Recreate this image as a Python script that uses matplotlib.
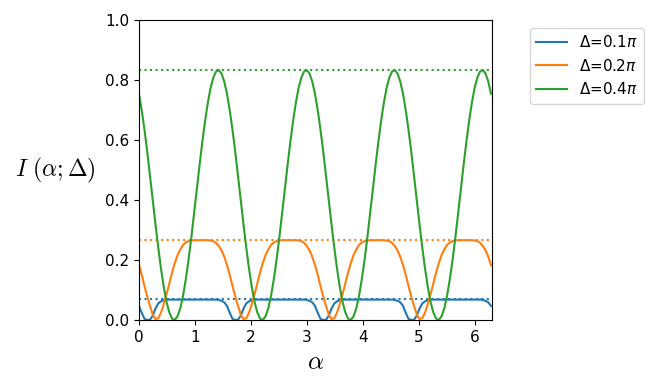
import numpy as np
import matplotlib
matplotlib.use('Agg')
import matplotlib.pyplot as plt

# muestras de alfa entre 0 y 2*pi
alpha = np.linspace(0, 2 * np.pi, 129)

# valores (periodo pi/2)
i_01 = [0.047, 0.024, 0.004, 0.000, 0.001, 0.014, 0.038, 0.055,
        0.062, 0.066, 0.068, 0.068, 0.068, 0.068, 0.068, 0.068,
        0.068, 0.068, 0.068, 0.068, 0.068, 0.068, 0.068, 0.068,
        0.068, 0.068, 0.068, 0.068, 0.068, 0.067, 0.064, 0.059,
        0.047, 0.024, 0.004, 0.000, 0.001, 0.014, 0.038, 0.055,
        0.062, 0.066, 0.068, 0.068, 0.068, 0.068, 0.068, 0.068,
        0.068, 0.068, 0.068, 0.068, 0.068, 0.068, 0.068, 0.068,
        0.068, 0.068, 0.068, 0.068, 0.068, 0.067, 0.064, 0.059,
        0.047, 0.024, 0.004, 0.000, 0.001, 0.014, 0.038, 0.055,
        0.062, 0.066, 0.068, 0.068, 0.068, 0.068, 0.068, 0.068,
        0.068, 0.068, 0.068, 0.068, 0.068, 0.068, 0.068, 0.068,
        0.068, 0.068, 0.068, 0.068, 0.068, 0.067, 0.064, 0.059,
        0.047, 0.024, 0.004, 0.000, 0.001, 0.014, 0.038, 0.055,
        0.062, 0.066, 0.068, 0.068, 0.068, 0.068, 0.068, 0.068,
        0.068, 0.068, 0.068, 0.068, 0.068, 0.068, 0.068, 0.068,
        0.068, 0.068, 0.068, 0.068, 0.068, 0.067, 0.064, 0.059,
        0.047]

i_02 = [0.183, 0.151, 0.113, 0.079, 0.047, 0.019, 0.003, 0.006,
        0.024, 0.053, 0.085, 0.121, 0.157, 0.189, 0.216, 0.235,
        0.250, 0.258, 0.263, 0.265, 0.266, 0.266, 0.266, 0.266,
        0.266, 0.266, 0.265, 0.263, 0.257, 0.247, 0.232, 0.211,
        0.183, 0.151, 0.113, 0.079, 0.047, 0.019, 0.003, 0.006,
        0.024, 0.053, 0.085, 0.121, 0.157, 0.189, 0.216, 0.235,
        0.250, 0.258, 0.263, 0.265, 0.266, 0.266, 0.266, 0.266,
        0.266, 0.266, 0.265, 0.263, 0.257, 0.247, 0.232, 0.211,
        0.183, 0.151, 0.113, 0.079, 0.047, 0.019, 0.003, 0.006,
        0.024, 0.053, 0.085, 0.121, 0.157, 0.189, 0.216, 0.235,
        0.250, 0.258, 0.263, 0.265, 0.266, 0.266, 0.266, 0.266,
        0.266, 0.266, 0.265, 0.263, 0.257, 0.247, 0.232, 0.211,
        0.183, 0.151, 0.113, 0.079, 0.047, 0.019, 0.003, 0.006,
        0.024, 0.053, 0.085, 0.121, 0.157, 0.189, 0.216, 0.235,
        0.250, 0.258, 0.263, 0.265, 0.266, 0.266, 0.266, 0.266,
        0.266, 0.266, 0.265, 0.263, 0.257, 0.247, 0.232, 0.211,
        0.183]

i_04 = [0.754, 0.699, 0.634, 0.561, 0.482, 0.400, 0.319, 0.242,
        0.172, 0.111, 0.061, 0.026, 0.005, 0.000, 0.012, 0.038,
        0.080, 0.134, 0.199, 0.272, 0.351, 0.433, 0.514, 0.591,
        0.661, 0.722, 0.772, 0.807, 0.828, 0.833, 0.822, 0.795,
        0.754, 0.699, 0.634, 0.561, 0.482, 0.400, 0.319, 0.242,
        0.172, 0.111, 0.061, 0.026, 0.005, 0.000, 0.012, 0.038,
        0.080, 0.134, 0.199, 0.272, 0.351, 0.433, 0.514, 0.591,
        0.661, 0.722, 0.772, 0.807, 0.828, 0.833, 0.822, 0.795,
        0.754, 0.699, 0.634, 0.561, 0.482, 0.400, 0.319, 0.242,
        0.172, 0.111, 0.061, 0.026, 0.005, 0.000, 0.012, 0.038,
        0.080, 0.134, 0.199, 0.272, 0.351, 0.433, 0.514, 0.591,
        0.661, 0.722, 0.772, 0.807, 0.828, 0.833, 0.822, 0.795,
        0.754, 0.699, 0.634, 0.561, 0.482, 0.400, 0.319, 0.242,
        0.172, 0.111, 0.061, 0.026, 0.005, 0.000, 0.012, 0.038,
        0.080, 0.134, 0.199, 0.272, 0.351, 0.433, 0.514, 0.591,
        0.661, 0.722, 0.772, 0.807, 0.828, 0.833, 0.822, 0.795,
        0.754]

series = [i_01, i_02, i_04]
labels = [r'$\Delta$=0.1$\pi$', r'$\Delta$=0.2$\pi$', r'$\Delta$=0.4$\pi$']
maximos = [0.069, 0.265, 0.833]
colores = ['C0', 'C1', 'C2']

fig = plt.figure(figsize=(6.64, 3.89), dpi=100)
ax = fig.add_axes([0.2093, 0.1774, 0.5316, 0.7712])

for y, lab, m, c in zip(series, labels, maximos, colores):
    ax.plot(alpha, y, color=c, lw=1.5, label=lab)
    ax.hlines(m, 0, 2 * np.pi, colors=c, linestyles=':', lw=1.5)

ax.set_xlim(0, 6.3)
ax.set_ylim(0, 1.0)
ax.set_xticks([0, 1, 2, 3, 4, 5, 6])
ax.set_yticks([0.0, 0.2, 0.4, 0.6, 0.8, 1.0])
ax.tick_params(labelsize=11)

ax.set_xlabel(r'$\alpha$', fontsize=18, math_fontfamily='cm')
ax.set_ylabel(r'$I\ (\alpha;\Delta)$', fontsize=17, math_fontfamily='cm',
              rotation=0, labelpad=36, va='center')

ax.legend(loc='upper left', bbox_to_anchor=(1.108, 0.973), fontsize=11,
          borderaxespad=0)

fig.savefig('out.png', dpi=100)
